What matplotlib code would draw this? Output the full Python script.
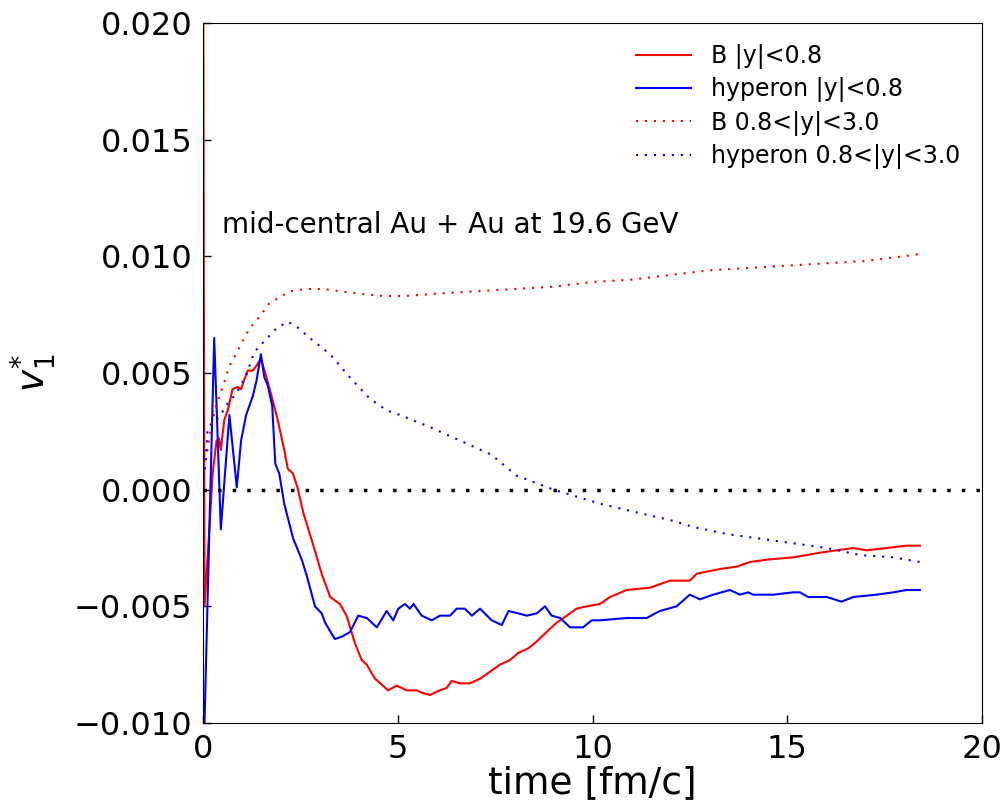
import matplotlib
matplotlib.use('Agg')
import matplotlib.pyplot as plt

# B |y|<0.8 (красная сплошная)
t_b_mid = [0.00, 0.03, 0.14, 0.24, 0.34, 0.40, 0.45, 0.54, 0.63, 0.75, 0.88, 0.97,
           1.05, 1.14, 1.27, 1.36, 1.48, 1.61, 1.74, 1.91, 2.08, 2.17, 2.30, 2.42,
           2.57, 2.83, 3.04, 3.26, 3.51, 3.68, 3.90, 4.07, 4.20, 4.41, 4.75, 4.97,
           5.23, 5.48, 5.61, 5.82, 6.08, 6.25, 6.38, 6.60, 6.85, 7.11, 7.37, 7.62,
           7.88, 8.09, 8.35, 8.57, 8.82, 9.08, 9.34, 9.59, 9.85, 10.19, 10.45, 10.88,
           11.48, 11.99, 12.50, 12.68, 13.28, 13.70, 14.05, 14.48, 15.16, 15.85,
           16.27, 16.70, 17.05, 17.56, 18.07, 18.41]
v_b_mid = [0.0210, -0.0050, -0.0021, 0.0007, 0.0021, 0.0022, 0.0017, 0.0030, 0.0034,
           0.0043, 0.0044, 0.0043, 0.0047, 0.0051, 0.0051, 0.0053, 0.0056, 0.0049,
           0.0041, 0.0030, 0.0017, 0.0009, 0.0007, 0.0001, -0.0010, -0.0024, -0.0036,
           -0.0046, -0.0049, -0.0054, -0.0066, -0.0073, -0.0075, -0.0081, -0.0086,
           -0.0084, -0.0086, -0.0086, -0.0087, -0.0088, -0.0086, -0.0085, -0.0082,
           -0.0083, -0.0083, -0.0081, -0.0078, -0.0075, -0.0073, -0.0070, -0.0068,
           -0.0065, -0.0061, -0.0057, -0.0054, -0.0051, -0.0050, -0.0049, -0.0046,
           -0.0043, -0.0042, -0.0039, -0.0039, -0.0036, -0.0034, -0.0033, -0.0031,
           -0.0030, -0.0029, -0.0027, -0.0026, -0.0025, -0.0026, -0.0025, -0.0024,
           -0.0024]

# hyperon |y|<0.8 (синяя сплошная)
t_h_mid = [0.00, 0.28, 0.45, 0.67, 0.86, 0.97, 1.10, 1.27, 1.37, 1.48, 1.57, 1.65,
           1.77, 1.85, 1.95, 2.08, 2.14, 2.31, 2.53, 2.66, 2.87, 3.04, 3.13, 3.38,
           3.56, 3.77, 3.98, 4.20, 4.46, 4.71, 4.88, 5.01, 5.18, 5.31, 5.40, 5.61,
           5.87, 6.08, 6.34, 6.51, 6.72, 6.90, 7.11, 7.41, 7.67, 7.84, 8.09, 8.31,
           8.57, 8.78, 8.95, 9.17, 9.42, 9.76, 9.98, 10.19, 10.88, 11.39, 11.73,
           12.16, 12.50, 12.76, 13.10, 13.53, 13.79, 14.00, 14.13, 14.65, 15.16,
           15.33, 15.54, 16.02, 16.40, 16.70, 17.30, 17.73, 18.07, 18.41]
v_h_mid = [-0.0120, 0.0065, -0.0017, 0.0032, 0.0001, 0.0021, 0.0032, 0.0040, 0.0047,
           0.0058, 0.0048, 0.0045, 0.0036, 0.0011, 0.0007, -0.0006, -0.0010, -0.0021,
           -0.0030, -0.0037, -0.0050, -0.0053, -0.0057, -0.0064, -0.0063, -0.0061,
           -0.0054, -0.0055, -0.0059, -0.0052, -0.0056, -0.0051, -0.0049, -0.0051,
           -0.0049, -0.0054, -0.0056, -0.0054, -0.0054, -0.0051, -0.0051, -0.0054,
           -0.0051, -0.0056, -0.0058, -0.0052, -0.0053, -0.0054, -0.0053, -0.0050,
           -0.0054, -0.0055, -0.0059, -0.0059, -0.0056, -0.0056, -0.0055, -0.0055,
           -0.0052, -0.0050, -0.0045, -0.0047, -0.0045, -0.0043, -0.0045, -0.0044,
           -0.0045, -0.0045, -0.0044, -0.0044, -0.0046, -0.0046, -0.0048, -0.0046,
           -0.0045, -0.0044, -0.0043, -0.0043]

# B 0.8<|y|<3.0 (красная пунктирная)
t_b_fwd = [0.00, 0.07, 0.20, 0.33, 0.50, 0.67, 0.93, 1.18, 1.44, 1.70, 2.23, 2.66,
           3.10, 3.51, 4.00, 4.63, 5.20, 6.00, 7.00, 8.00, 9.00, 10.00, 11.00,
           12.00, 13.00, 14.00, 15.00, 16.00, 17.00, 18.00, 18.41]
v_b_fwd = [0.0005, 0.0013, 0.0027, 0.0036, 0.0044, 0.0053, 0.0061, 0.0069, 0.0074,
           0.0080, 0.0085, 0.0086, 0.0086, 0.0085, 0.0084, 0.0083, 0.0083, 0.0084,
           0.0085, 0.0086, 0.0087, 0.0089, 0.0090, 0.0092, 0.0094, 0.0095, 0.0096,
           0.0097, 0.0098, 0.0100, 0.0101]

# hyperon 0.8<|y|<3.0 (синяя пунктирная)
t_h_fwd = [0.00, 0.05, 0.11, 0.24, 0.41, 0.58, 0.84, 1.10, 1.31, 1.53, 1.87, 2.17,
           2.47, 2.66, 3.26, 3.77, 4.28, 4.71, 5.05, 5.80, 6.60, 7.40, 8.05, 9.00,
           10.19, 11.20, 11.99, 12.59, 13.45, 14.30, 15.16, 16.02, 16.87, 17.73, 18.41]
v_h_fwd = [0.0005, 0.0010, 0.0026, 0.0029, 0.0031, 0.0036, 0.0041, 0.0049, 0.0059,
           0.0063, 0.0069, 0.0072, 0.0069, 0.0066, 0.0058, 0.0048, 0.0039, 0.0034,
           0.0032, 0.0027, 0.0021, 0.0015, 0.0006, 0.0000, -0.0006, -0.0010, -0.0013,
           -0.0016, -0.0019, -0.0021, -0.0023, -0.0025, -0.0028, -0.0029, -0.0031]

labels = ['B |y|<0.8', 'hyperon |y|<0.8', 'B 0.8<|y|<3.0', 'hyperon 0.8<|y|<3.0']
y_ticks = [-0.010, -0.005, 0.000, 0.005, 0.010, 0.015, 0.020]
x_ticks = [0, 5, 10, 15, 20]

fig = plt.figure(figsize=(10.07, 8.09), dpi=100)
ax = fig.add_axes([0.2019, 0.1063, 0.7730, 0.8653])

ax.plot(t_b_mid, v_b_mid, color='red', lw=1.5, label=labels[0])
ax.plot(t_h_mid, v_h_mid, color='blue', lw=1.5, label=labels[1])
ax.plot(t_b_fwd, v_b_fwd, color='red', lw=1.5, dashes=(1, 3.3), label=labels[2])
ax.plot(t_h_fwd, v_h_fwd, color='blue', lw=1.5, dashes=(1, 3.3), label=labels[3])

# нулевая линия
ax.axhline(0, color='black', lw=2.5, dashes=(1, 3.2))

ax.text(0.48, 0.01136, 'mid-central Au + Au at 19.6 GeV', fontsize=20, va='center')

ax.set_xlim(0, 20)
ax.set_ylim(-0.010, 0.020)
ax.set_xticks(x_ticks)
ax.set_yticks(y_ticks)
ax.set_yticklabels(['\u22120.010', '\u22120.005', '0.000', '0.005', '0.010', '0.015', '0.020'])
ax.tick_params(direction='in', length=6, width=1, labelsize=23, pad=8)

ax.set_xlabel('time [fm/c]', fontsize=27, labelpad=0)
ax.set_ylabel(r'$v_1^{*}$', fontsize=27)
ax.yaxis.set_label_coords(-0.187, 0.5)

ax.legend(loc='upper right', frameon=False, fontsize=17, handlelength=2.35,
          handletextpad=0.85, labelspacing=0.35)

fig.savefig('out.png', dpi=100)
